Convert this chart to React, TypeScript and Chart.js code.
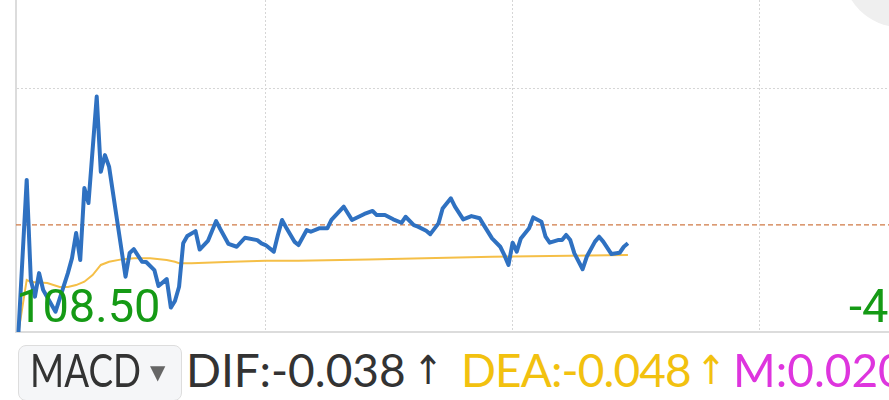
import React, { useEffect, useRef } from "react";
import { Chart, registerables } from "chart.js";

Chart.register(...registerables);

// minute offsets from open, and last price at each of those minutes
const PRICE_MINUTES = [0,2,3,4,5,6,9,12,13,14,15,16,17,19,20,21,22,24,26,27,28,30,31,33,34,36,37,38,39,40,41,43,44,46,48,49,51,53,55,58,59,60,62,63,64,65,67,68,70,71,73,75,76,79,81,84,86,87,89,91,93,94,96,97,99,100,102,103,105,106,108,110,112,113,115,117,118,119,120,121,122,124,125,127,128,129,131,132,133,134,135,137,138,140,141,142,144,146,147,148];
const PRICES = [108.50,115.60,110.93,110.15,111.25,110.46,109.45,111.25,111.95,113.12,111.86,115.22,114.52,119.49,115.98,116.76,116.22,113.65,111.08,112.19,112.37,111.78,111.77,111.39,110.65,110.97,109.64,109.95,110.61,112.64,112.98,113.21,112.35,112.75,113.68,113.31,112.61,112.48,112.90,112.79,112.64,112.56,112.25,113.03,113.73,113.38,112.72,112.56,113.26,113.18,113.34,113.34,113.73,114.35,113.73,114.01,114.15,113.96,113.96,113.76,113.60,113.88,113.49,113.42,113.23,113.07,113.57,114.27,114.74,114.35,113.76,113.91,113.81,113.49,112.87,112.48,112.09,111.63,112.67,112.25,112.87,113.34,113.85,113.65,112.95,112.67,112.79,112.79,113.03,112.79,112.17,111.43,112.01,112.72,112.95,112.72,112.14,112.20,112.48,112.64];

// average price line
const AVG_MINUTES = [0,2,3,7,10,12,14,16,18,20,22,25,28,32,36,38,39,42,52,60,68,85,115,148];
const AVG_PRICES = [108.50,110.93,110.83,110.79,110.60,110.60,110.69,110.85,111.16,111.63,111.78,111.89,111.94,111.94,111.86,111.78,111.71,111.71,111.78,111.83,111.83,111.89,112.01,112.09];

const PREV_CLOSE = 113.5;
const LOW_LABEL = "108.50";
const LOW_PCT_LABEL = "-4.41%";
const X_MIN = -0.6;
const X_MAX = 211.4;
const Y_MIN = 108.5;
const Y_MAX = 124.0;
const X_GRID_TICKS = [60, 120, 180];
const Y_GRID_TICKS = [119.85];

const MACD_LABEL = "MACD";
const DIF_TEXT = "DIF:-0.038";
const DEA_TEXT = "DEA:-0.048";
const M_TEXT = "M:0.020";

export default function App() {
  const canvasRef = useRef<HTMLCanvasElement | null>(null);

  useEffect(() => {
    const canvas = canvasRef.current;
    if (!canvas) return;
    const priceData = PRICE_MINUTES.map((m, i) => ({ x: m, y: PRICES[i] }));
    const avgData = AVG_MINUTES.map((m, i) => ({ x: m, y: AVG_PRICES[i] }));
    const chart = new Chart(canvas, {
      type: "line",
      data: {
        datasets: [
          {
            label: "price",
            data: priceData,
            borderColor: "#2f71c1",
            borderWidth: 4,
            pointRadius: 0,
            tension: 0,
            borderJoinStyle: "round",
            clip: 6,
          },
          {
            label: "avg",
            data: avgData,
            borderColor: "#f5bf47",
            borderWidth: 2,
            pointRadius: 0,
            tension: 0,
            clip: 6,
          },
          {
            label: "prevClose",
            data: [
              { x: X_MIN, y: PREV_CLOSE },
              { x: X_MAX, y: PREV_CLOSE },
            ],
            borderColor: "#cf7a45",
            borderWidth: 1.2,
            borderDash: [5, 3],
            pointRadius: 0,
          },
        ],
      },
      options: {
        animation: false,
        responsive: true,
        maintainAspectRatio: false,
        layout: { padding: { left: 16, right: 0, top: 0, bottom: 2 } },
        plugins: { legend: { display: false }, tooltip: { enabled: false } },
        scales: {
          x: {
            type: "linear",
            min: X_MIN,
            max: X_MAX,
            afterBuildTicks: (s: any) => {
              s.ticks = X_GRID_TICKS.map((v) => ({ value: v }));
            },
            afterFit: (s: any) => {
              s.height = 0;
            },
            ticks: { display: false },
            grid: { color: "#d6d6d6", lineWidth: 1, drawTicks: false },
            border: { display: true, color: "#dcdcdc", width: 2, dash: [2, 2] },
          },
          y: {
            type: "linear",
            min: Y_MIN,
            max: Y_MAX,
            afterBuildTicks: (s: any) => {
              s.ticks = Y_GRID_TICKS.map((v) => ({ value: v }));
            },
            afterFit: (s: any) => {
              s.width = 0;
            },
            ticks: { display: false },
            grid: { color: "#d6d6d6", lineWidth: 1, drawTicks: false },
            border: { display: true, color: "#dcdcdc", width: 2, dash: [2, 2] },
          },
        },
      },
    });
    return () => chart.destroy();
  }, []);

  const abs = (left: number, top: number, size: number, color: string, family: string): React.CSSProperties => ({
    position: "absolute",
    left,
    top,
    fontSize: size,
    lineHeight: `${size}px`,
    color,
    fontFamily: family,
    whiteSpace: "nowrap",
  });
  const roboto = "Roboto, 'Noto Sans', sans-serif";
  const lato = "Lato, 'Noto Sans', sans-serif";
  const arrow = "'DejaVu Sans', sans-serif";

  return (
    <div
      style={{
        position: "absolute",
        left: 0,
        top: 0,
        width: 889,
        height: 400,
        overflow: "hidden",
        background: "#ffffff",
      }}
    >
      <div style={{ position: "absolute", left: 0, top: 0, width: 889, height: 334 }}>
        <canvas ref={canvasRef} />
      </div>
      <div
        style={{
          position: "absolute",
          left: 843,
          top: -87,
          width: 114,
          height: 114,
          borderRadius: "50%",
          background: "#efefef",
        }}
      />
      <div style={abs(16, 282, 47, "#159a15", roboto)}>{LOW_LABEL}</div>
      <div style={abs(849, 282, 47, "#159a15", roboto)}>{LOW_PCT_LABEL}</div>
      <div
        style={{
          position: "absolute",
          left: 18,
          top: 345,
          width: 164,
          height: 56,
          boxSizing: "border-box",
          border: "1px solid #dddddd",
          borderRadius: 8,
          background: "#f5f6f8",
        }}
      />
      <div style={{ ...abs(30, 347, 46, "#333333", lato), transform: "scaleX(0.8)", transformOrigin: "left" }}>
        {MACD_LABEL}
      </div>
      <div style={abs(150, 362, 20, "#666666", arrow)}>▼</div>
      <div style={abs(186, 347, 46, "#333333", lato)}>{DIF_TEXT}</div>
      <div style={{ ...abs(413, 350, 40, "#333333", arrow), transform: "scaleX(0.9)", transformOrigin: "left" }}>↑</div>
      <div style={{ ...abs(461, 347, 46, "#f2c10f", lato), letterSpacing: "-0.9px" }}>{DEA_TEXT}</div>
      <div style={{ ...abs(696, 350, 40, "#f2c10f", arrow), transform: "scaleX(0.9)", transformOrigin: "left" }}>↑</div>
      <div style={abs(733, 347, 46, "#de35de", lato)}>{M_TEXT}</div>
    </div>
  );
}
